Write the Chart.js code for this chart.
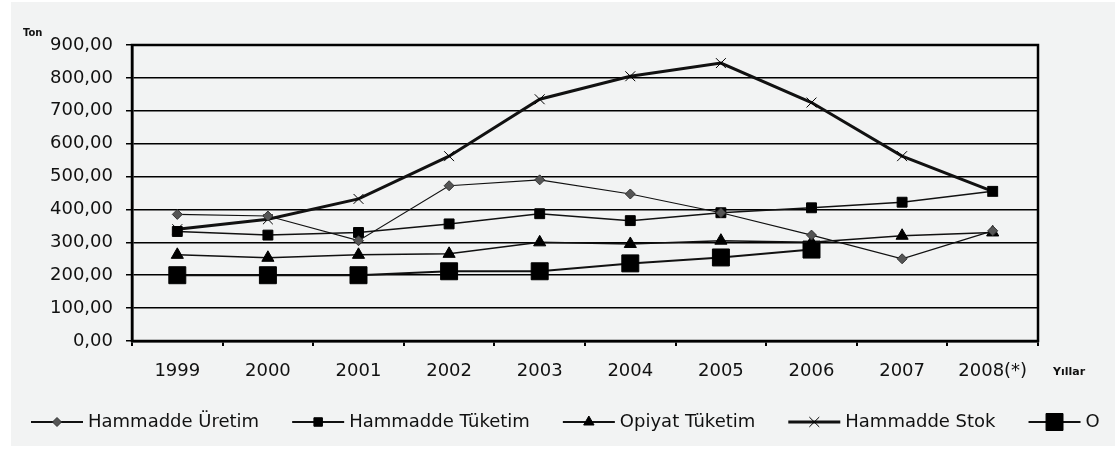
<!DOCTYPE html>
<html>
<head>
<meta charset="utf-8">
<script src="https://cdn.jsdelivr.net/npm/chart.js@4/dist/chart.umd.min.js"></script>
<style>
  body { margin: 0; background: #ffffff; }
  #grafico { display: block; }
</style>
</head>
<body>
<canvas id="grafico" width="1115" height="449"></canvas>
<script>
// dados (ton)
var anos = ['1999', '2000', '2001', '2002', '2003', '2004', '2005', '2006', '2007', '2008(*)'];
var hammaddeUretim = [385, 380, 305, 472, 490, 447, 390, 322, 250, 335];
var hammaddeTuketim = [333, 322, 330, 356, 387, 366, 390, 405, 422, 455];
var opiyatTuketim = [262, 253, 262, 265, 300, 295, 305, 300, 320, 330];
var hammaddeStok = [340, 370, 432, 562, 735, 805, 845, 725, 562, 455];
var opiyatStok = [200, 200, 200, 212, 212, 236, 254, 278, null, null];
var rotulos = ['Hammadde Üretim', 'Hammadde Tüketim', 'Opiyat Tüketim', 'Hammadde Stok', 'O'];
var eixoY = 'Ton';
var eixoX = 'Yıllar';

var fonte = { family: 'DejaVu Sans', size: 18 };

// fundo, moldura, legenda e titulos dos eixos
var extras = {
  id: 'extras',
  beforeDraw: function (chart) {
    var ctx = chart.ctx;
    ctx.save();
    ctx.fillStyle = '#ffffff';
    ctx.fillRect(0, 0, chart.width, chart.height);
    ctx.fillStyle = '#f2f3f3';
    ctx.fillRect(11, 2, chart.width - 11, chart.height - 5);
    ctx.restore();
  },
  afterDraw: function (chart) {
    var ctx = chart.ctx;
    var area = chart.chartArea;
    ctx.save();
    ctx.strokeStyle = '#000';
    ctx.lineWidth = 2.5;
    ctx.strokeRect(area.left, area.top, area.right - area.left, area.bottom - area.top);

    ctx.fillStyle = '#111';
    ctx.font = 'bold 10px "DejaVu Sans"';
    ctx.textBaseline = 'middle';
    ctx.textAlign = 'left';
    ctx.fillText(eixoY, 23, 33);
    ctx.font = 'bold 11px "DejaVu Sans"';
    ctx.fillText(eixoX, 1053, 372);

    // legenda
    var x = 31;
    var y = 422;
    ctx.font = '18px "DejaVu Sans"';
    chart.data.datasets.forEach(function (ds) {
      ctx.strokeStyle = '#111';
      ctx.lineWidth = Math.max(ds.borderWidth, 2);
      ctx.beginPath();
      ctx.moveTo(x, y);
      ctx.lineTo(x + 52, y);
      ctx.stroke();
      ctx.fillStyle = ds.pointBackgroundColor;
      ctx.strokeStyle = ds.pointBorderColor;
      ctx.lineWidth = ds.pointBorderWidth;
      var r = ds.pointRadius;
      if (ds.pointStyle == 'rectRot') r = 4.5;
      if (ds.pointStyle == 'rect' && r < 10) r = 6;
      if (ds.pointStyle == 'triangle') r = 6;
      Chart.helpers.drawPoint(ctx, {
        pointStyle: ds.pointStyle,
        radius: r,
        rotation: 0,
        borderWidth: ds.pointBorderWidth
      }, x + 26, y);
      ctx.fillStyle = '#111';
      ctx.fillText(ds.label, x + 57, y);
      x = x + 57 + ctx.measureText(ds.label).width + 33;
    });
    ctx.restore();
  }
};

function serie(rotulo, dados, estilo, raio, largura, corPonto) {
  return {
    label: rotulo,
    data: dados,
    borderColor: '#111',
    borderWidth: largura,
    pointStyle: estilo,
    pointRadius: raio,
    pointHoverRadius: raio,
    pointBackgroundColor: corPonto,
    pointBorderColor: estilo == 'rectRot' ? '#333' : '#000',
    pointBorderWidth: 1,
    tension: 0,
    spanGaps: false
  };
}

var ctx = document.getElementById('grafico').getContext('2d');
var chart = new Chart(ctx, {
  type: 'line',
  data: {
    labels: anos,
    datasets: [
      serie(rotulos[0], hammaddeUretim, 'rectRot', 5, 1.2, '#555555'),
      serie(rotulos[1], hammaddeTuketim, 'rect', 7, 1.5, '#000000'),
      serie(rotulos[2], opiyatTuketim, 'triangle', 7, 1.5, '#000000'),
      serie(rotulos[3], hammaddeStok, 'crossRot', 7, 3, '#000000'),
      serie(rotulos[4], opiyatStok, 'rect', 12, 2, '#000000')
    ]
  },
  options: {
    responsive: false,
    animation: false,
    layout: { padding: { top: 45, right: 77, left: 0, bottom: 0 } },
    plugins: {
      legend: { display: false },
      tooltip: { enabled: false }
    },
    scales: {
      x: {
        offset: true,
        afterFit: function (s) { s.height = 108; },
        grid: { offset: true, drawOnChartArea: false, tickLength: 5, color: '#000', lineWidth: 2 },
        border: { color: '#000', width: 2.5 },
        ticks: { color: '#111', font: fonte, padding: 15, maxRotation: 0, autoSkip: false }
      },
      y: {
        min: 0,
        max: 900,
        afterFit: function (s) { s.width = 132; },
        grid: { color: '#000', lineWidth: 1.5, tickLength: 6 },
        border: { color: '#000', width: 2.5 },
        ticks: {
          stepSize: 100,
          color: '#111',
          font: fonte,
          padding: 13,
          callback: function (v) { return v.toFixed(2).replace('.', ','); }
        }
      }
    }
  },
  plugins: [extras]
});
</script>
</body>
</html>
